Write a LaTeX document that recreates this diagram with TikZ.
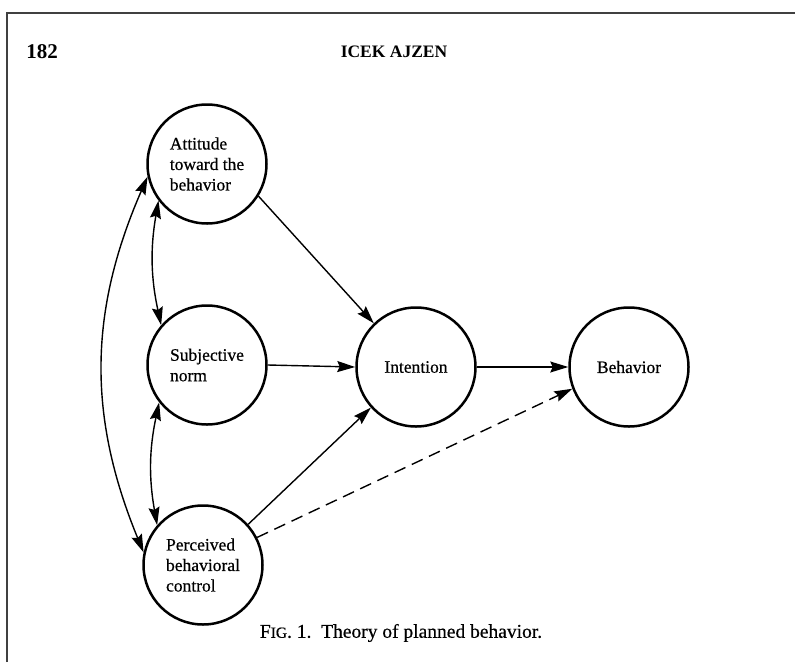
\documentclass[tikz,border=0pt]{standalone}
\usepackage{fontspec}
\setmainfont{Liberation Serif}
\newfontfamily\printfont[FakeBold=0.5]{Liberation Serif}
\usetikzlibrary{arrows.meta}
\begin{document}
\begin{tikzpicture}[x=1pt,y=-1pt,
  construct/.style={circle,draw,line width=2.5pt,minimum size=119pt,inner sep=0pt,
    align=left,font=\printfont\fontsize{17.5}{20.5}\selectfont},
  tip/.tip={Stealth[length=18pt,width=11pt,inset=2.5pt]},
  link/.style={line width=1.4pt,-tip},
  mutual/.style={line width=1.4pt,tip-tip}]
  \useasboundingbox (0,0) rectangle (795,662);
  \fill[white] (0,0) rectangle (795,662);

  % page frame
  \draw[line width=1.6pt,black!75] (7,662) -- (7,13) -- (795,13);

  % running head
  \node[font=\fontsize{21}{24}\selectfont\bfseries] (page) at (42,52) {182};
  \node[font=\fontsize{17.5}{20}\selectfont\bfseries] (head) at (394,52) {ICEK AJZEN};

  % constructs
  \node[construct] (att)  at (207,164) {Attitude\\toward the\\behavior};
  \node[construct] (subj) at (207,365) {Subjective\\norm};
  \node[construct] (pbc)  at (203,565) {Perceived\\behavioral\\control};
  \node[construct] (int)  at (416,367) {Intention};
  \node[construct] (beh)  at (629,367) {Behavior};

  % paths
  \draw[link] (att.-32) -- (int.134);
  \draw[link] (subj.east) -- (int.west);
  \draw[link] (pbc.42) -- (int.222);
  \draw[link] (int.east) -- (beh.west);
  \draw[link,dash pattern=on 12pt off 7pt] (pbc.27) -- (beh.201);

  % correlations among the predictors
  \draw[mutual] (att.217) to[bend right=11] (subj.139);
  \draw[mutual] (subj.218) to[bend right=11] (pbc.139);
  \draw[mutual] (att.192) to[bend right=23] (pbc.168);

  % caption
  \node[font=\printfont\fontsize{19.5}{22}\selectfont] (cap) at (401,633) {F{\fontsize{15.5}{18}\selectfont IG}.~1.\ \ Theory of planned behavior.};
\end{tikzpicture}
\end{document}
